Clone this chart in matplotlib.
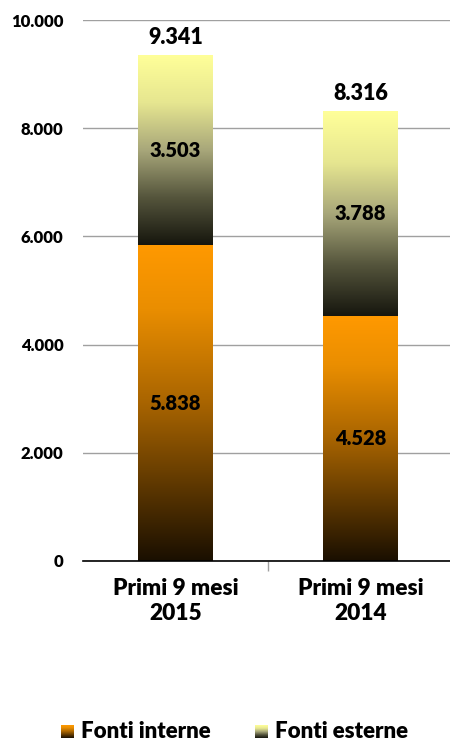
import numpy as np
import matplotlib
matplotlib.use('Agg')
import matplotlib.pyplot as plt
from matplotlib.colors import LinearSegmentedColormap

plt.rcParams['font.family'] = ['Lato', 'DejaVu Sans']
W = 'heavy'

categories = ['Primi 9 mesi\n2015', 'Primi 9 mesi\n2014']
fonti_interne = [5838, 4528]
fonti_esterne = [3503, 3788]
series_labels = ['Fonti interne', 'Fonti esterne']

cmap_int = LinearSegmentedColormap.from_list(
    'int', [(0, '#1a0f00'), (0.5, '#a86400'), (0.8, '#ea8e00'), (1, '#ff9900')])
cmap_ext = LinearSegmentedColormap.from_list(
    'ext', [(0, '#16160e'), (0.25, '#55553c'), (0.5, '#a8a77a'), (0.75, '#e6e690'), (1, '#ffff99')])


def fmt(v):
    return f'{v:,}'.replace(',', '.')


def gradient_bar(ax, x, bottom, height, width, cmap):
    grad = np.linspace(0, 1, 256).reshape(-1, 1)
    ax.imshow(grad, cmap=cmap, origin='lower', aspect='auto',
              extent=[x - width / 2, x + width / 2, bottom, bottom + height],
              zorder=2, interpolation='bilinear')


fig = plt.figure(figsize=(4.5, 7.42), dpi=100)
ax = fig.add_axes([0.184, 0.244, 0.823, 0.729])

width = 0.405
x = np.arange(len(categories))
for i in x:
    gradient_bar(ax, i, 0, fonti_interne[i], width, cmap_int)
    gradient_bar(ax, i, fonti_interne[i], fonti_esterne[i], width, cmap_ext)
    ax.text(i, fonti_interne[i] / 2, fmt(fonti_interne[i]), ha='center', va='center',
            fontsize=14.5, fontweight=W, color='black', zorder=3)
    ax.text(i, fonti_interne[i] + fonti_esterne[i] / 2, fmt(fonti_esterne[i]),
            ha='center', va='center', fontsize=14.5, fontweight=W, color='black', zorder=3)
    total = fonti_interne[i] + fonti_esterne[i]
    ax.text(i, total + 330, fmt(total), ha='center', va='center',
            fontsize=15.5, fontweight=W, color='black', zorder=3)

ax.set_xlim(-0.5, 1.5)
ax.set_ylim(0, 10000)
ax.set_yticks(range(0, 10001, 2000))
ax.set_yticklabels([fmt(v) for v in range(0, 10001, 2000)], fontsize=12, fontweight=W)
ax.set_xticks(x)
ax.set_xticklabels(categories, fontsize=16.3, fontweight=W, linespacing=1.25)
ax.tick_params(axis='y', length=0, pad=14)
ax.tick_params(axis='x', length=0, pad=12)
ax.set_xticks([0.5], minor=True)
ax.tick_params(axis='x', which='minor', length=7, color='#a0a0a0', width=1)

ax.yaxis.grid(True, color='#a0a0a0', linewidth=1)
ax.set_axisbelow(True)
for s in ['top', 'right', 'left']:
    ax.spines[s].set_visible(False)
ax.spines['bottom'].set_color('black')
ax.spines['bottom'].set_linewidth(1.2)

# legend drawn by hand so the swatches carry the same gradients
grad = np.linspace(0, 1, 64).reshape(-1, 1)
for x0, cmap, tx, label in [(61, cmap_int, 81, series_labels[0]),
                            (255, cmap_ext, 275, series_labels[1])]:
    sw = fig.add_axes([x0 / 450, 1 - 738 / 742, 13 / 450, 13 / 742])
    sw.imshow(grad, cmap=cmap, origin='lower', aspect='auto')
    sw.axis('off')
    fig.text(tx / 450, 1 - 731 / 742, label, ha='left', va='center',
             fontsize=16, fontweight=W)

fig.savefig('out.png', dpi=100)
